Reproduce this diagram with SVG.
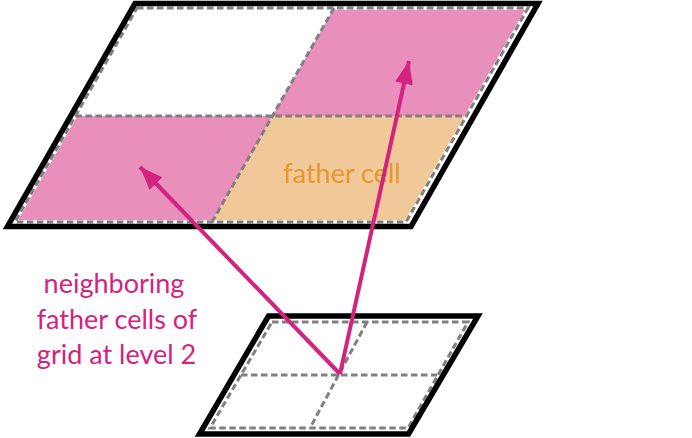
<svg xmlns="http://www.w3.org/2000/svg" width="692" height="438" viewBox="0 0 692 438">
<defs>
<style>
.frame{fill:none;stroke:#000;stroke-width:5.5;stroke-linejoin:miter}
.dashw{fill:none;stroke:#fff;stroke-width:3.5}
.dash{fill:none;stroke:#808080;stroke-width:3;stroke-dasharray:6.5 3.5}
.pink{fill:#e88fbb}
.orange{fill:#f1c998}
.arrow{fill:none;stroke:#d4237e;stroke-width:4}
.lbl{font-family:Lato,"Open Sans",sans-serif;font-size:27px}
</style>
<marker id="ah" markerUnits="userSpaceOnUse" markerWidth="26" markerHeight="20" refX="23" refY="9" orient="auto">
<path d="M0,0 L23,9 L0,18 Z" fill="#d4237e"/>
</marker>
</defs>
<rect width="692" height="438" fill="#fff"/>
<g id="top-grid">
<polygon class="pink" points="334,8 528,8 466.4,116 272.4,116"/>
<polygon class="pink" points="75.4,116 272.4,116 212,222 15,222"/>
<polygon class="orange" points="272.4,116 466.4,116 406,222 212,222"/>
<polygon class="dashw" points="137,8 528,8 406,222 15,222"/>
<polygon class="dash" points="137,8 528,8 406,222 15,222"/>
<line class="dash" x1="75.4" y1="116" x2="466.4" y2="116"/>
<line class="dash" x1="334" y1="8" x2="212" y2="222"/>
<polygon class="frame" points="135,3.5 538,3.5 411,226.5 7.5,226.5"/>
</g>
<g id="father-cell">
<text class="lbl" x="342" y="183" text-anchor="middle" fill="#e8962e">father cell</text>
</g>
<g id="bottom-grid">
<polygon class="dashw" points="272,322 468,322 408,428 210,428"/>
<polygon class="dash" points="272,322 468,322 408,428 210,428"/>
<line class="dash" x1="241" y1="375" x2="437" y2="375"/>
<line class="dash" x1="367" y1="322" x2="310" y2="428"/>
<polygon class="frame" points="268.5,316 478,316 408.5,434 199.5,434"/>
</g>
<g id="label">
<text class="lbl" fill="#d4237e" text-anchor="middle"><tspan x="114" y="293">neighboring</tspan><tspan x="117" y="329">father cells of</tspan><tspan x="116.5" y="364">grid at level 2</tspan></text>
</g>
<g id="connectors">
<line class="arrow" x1="340" y1="374" x2="140" y2="167" marker-end="url(#ah)"/>
<line class="arrow" x1="340" y1="374" x2="409" y2="61" marker-end="url(#ah)"/>
</g>
</svg>
